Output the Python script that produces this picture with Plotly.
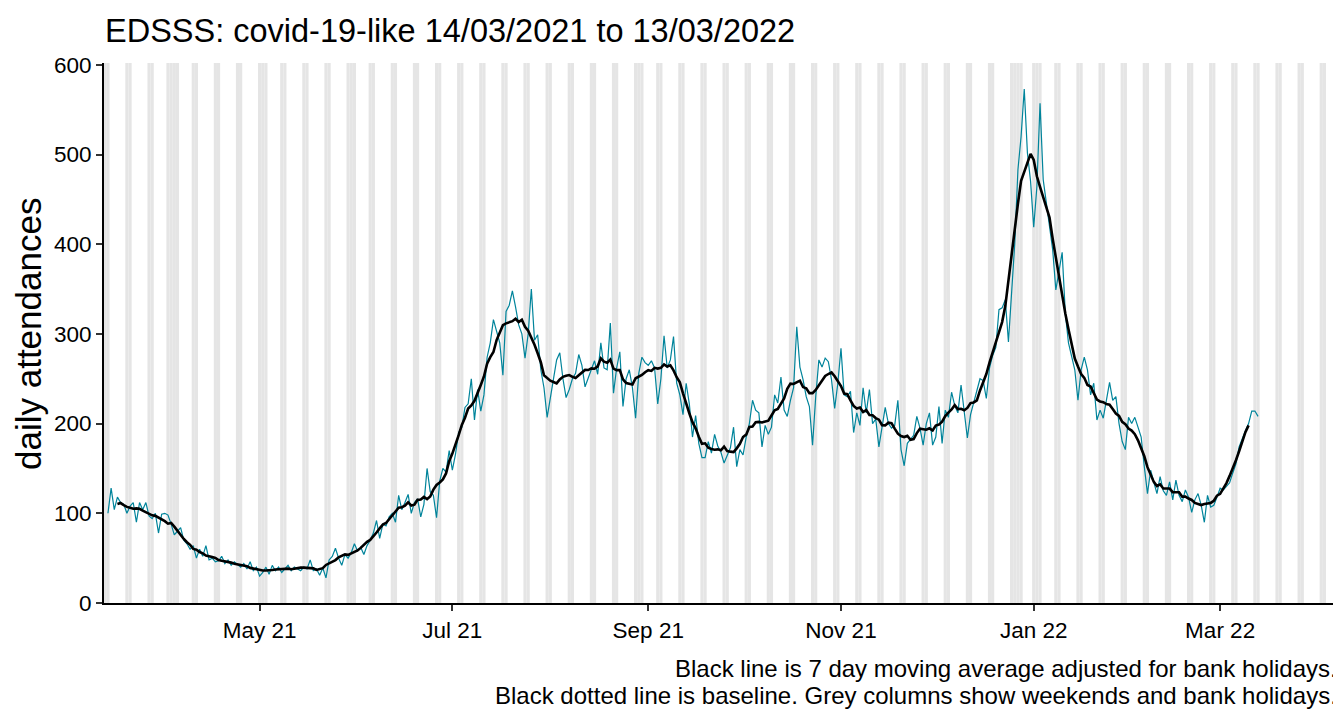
import pandas as pd
import plotly.graph_objects as go

start_date = "2021-03-14"

# daily attendances, one row per week (Sun..Sat)
attendances = [
    100, 128, 104, 118, 112, 110, 100,
    108, 112, 90, 112, 104, 112, 97,
    94, 100, 78, 99, 100, 98, 88,
    76, 80, 84, 70, 66, 60, 64,
    50, 60, 52, 64, 48, 50, 46,
    47, 52, 44, 48, 42, 46, 43,
    40, 44, 38, 46, 36, 40, 30,
    34, 40, 32, 42, 36, 40, 34,
    38, 42, 36, 40, 38, 36, 40,
    38, 48, 36, 38, 31, 39, 28,
    48, 52, 61, 50, 42, 54, 50,
    56, 66, 58, 62, 54, 64, 70,
    78, 92, 72, 88, 86, 96, 100,
    90, 120, 104, 112, 121, 100, 112,
    116, 96, 110, 150, 124, 120, 95,
    136, 150, 146, 170, 148, 166, 190,
    196, 218, 222, 250, 204, 238, 214,
    232, 274, 290, 316, 303, 290, 254,
    325, 332, 348, 330, 310, 300, 273,
    300, 350, 293, 299, 260, 240, 207,
    230, 248, 271, 279, 250, 229, 238,
    250, 256, 277, 265, 241, 250, 260,
    270, 255, 290, 262, 260, 312, 234,
    262, 280, 219, 250, 260, 240, 206,
    256, 274, 268, 265, 270, 262, 222,
    250, 298, 262, 271, 297, 245, 232,
    210, 245, 222, 185, 209, 178, 162,
    162, 180, 167, 188, 175, 168, 156,
    165, 173, 196, 152, 171, 165, 185,
    200, 226, 215, 212, 174, 198, 188,
    196, 232, 223, 252, 215, 208, 226,
    240, 308, 263, 249, 230, 219, 176,
    230, 271, 263, 273, 269, 249, 217,
    245, 284, 232, 230, 236, 190, 212,
    198, 240, 212, 238, 200, 205, 174,
    196, 218, 200, 195, 198, 226, 171,
    153, 178, 182, 187, 208, 195, 176,
    200, 212, 176, 185, 219, 178, 215,
    207, 235, 220, 212, 243, 212, 184,
    210, 223, 238, 250, 248, 228, 262,
    276, 285, 327, 329, 338, 291, 346,
    401, 483, 520, 573, 502, 470, 419,
    464, 557, 472, 446, 419, 394, 349,
    371, 391, 323, 290, 275, 260, 226,
    260, 274, 260, 232, 245, 204, 215,
    206, 225, 246, 226, 230, 200, 180,
    171, 207, 200, 207, 196, 185, 152,
    122, 148, 135, 122, 141, 125, 120,
    135, 115, 137, 120, 113, 126, 118,
    101, 115, 122, 109, 90, 120, 107,
    109, 118, 128, 126, 130, 134, 145,
    155, 174, 184, 192, 200, 214, 214,
    208,
]

bank_holidays = ["2021-04-02", "2021-04-05", "2021-05-03", "2021-05-31",
                 "2021-08-30", "2021-12-27", "2021-12-28", "2022-01-03"]

caption_lines = [
    "Black line is 7 day moving average adjusted for bank holidays.",
    "Black dotted line is baseline. Grey columns show weekends and bank holidays.",
]

x_start = "2021-03-12 18:00"
x_end = "2022-04-08 06:00"

df = pd.DataFrame({
    "date": pd.date_range(start_date, periods=len(attendances), freq="D"),
    "n": attendances,
})
df["ma7"] = df["n"].rolling(7, center=True).mean()

font = "Liberation Sans, Arial, sans-serif"
# the page body adds an 8px margin, so the figure is drawn 8px smaller
# and every pixel position below is given relative to the figure itself
OFF = 8
W, H = 1341 - OFF, 709 - OFF
L, T, B = 104 - OFF, 63 - OFF, 106

fig = go.Figure()

# grey columns for weekends and bank holidays
bh = set(pd.to_datetime(bank_holidays))
for d in pd.date_range("2021-03-12", "2022-04-09", freq="D"):
    if d.weekday() >= 5 or d in bh:
        fig.add_shape(type="rect", xref="x", yref="paper",
                      x0=d - pd.Timedelta(hours=12), x1=d + pd.Timedelta(hours=12),
                      y0=0, y1=1, fillcolor="#E5E5E5", line_width=0, layer="below")

fig.add_trace(go.Scatter(x=df["date"], y=df["n"], mode="lines",
                         line=dict(color="#00849B", width=1.2), showlegend=False))
fig.add_trace(go.Scatter(x=df["date"], y=df["ma7"], mode="lines",
                         line=dict(color="black", width=2.6), showlegend=False))

fig.update_layout(
    width=W, height=H,
    margin=dict(l=L, r=0, t=T, b=B),
    paper_bgcolor="white", plot_bgcolor="white",
    font=dict(family=font, color="black"),
    title=dict(text="EDSSS: covid-19-like 14/03/2021 to 13/03/2022",
               x=(105 - OFF) / W, xanchor="left", xref="container",
               y=1 - (31 - OFF) / H, yanchor="middle", yref="container",
               font=dict(size=32.5, family=font, color="black")),
    xaxis=dict(type="date", range=[x_start, x_end], showgrid=False, zeroline=False,
               automargin=False,
               tick0="2021-05-01", dtick="M2", tickformat="%b %y",
               ticks="outside", ticklen=6, tickwidth=1.5, tickcolor="#333333",
               tickfont=dict(size=22.5, color="black"),
               showline=True, linecolor="black", linewidth=2),
    yaxis=dict(range=[0, 602], showgrid=False, zeroline=False,
               automargin=False,
               tickvals=[0, 100, 200, 300, 400, 500, 600],
               ticks="outside", ticklen=6, tickwidth=1.5, tickcolor="#333333",
               tickfont=dict(size=22.5, color="black"),
               showline=True, linecolor="black", linewidth=2),
)

plot_w = W - L
plot_h = H - T - B

# y axis title
fig.add_annotation(text="daily attendances", textangle=-90,
                   xref="paper", yref="paper",
                   x=(29 - OFF - L) / plot_w, y=(H - B - (334 - OFF)) / plot_h,
                   xanchor="center", yanchor="middle", showarrow=False,
                   borderpad=0, font=dict(size=35, color="black"))

# caption, right aligned under the plot
for i, line in enumerate(caption_lines):
    fig.add_annotation(text=line, xref="paper", yref="paper",
                       x=(1339 - OFF - L) / plot_w,
                       y=-((668 - OFF) + 27 * i - (H - B)) / plot_h,
                       xanchor="right", yanchor="middle", showarrow=False,
                       font=dict(size=24, color="black"))

fig.write_html("out.html")
